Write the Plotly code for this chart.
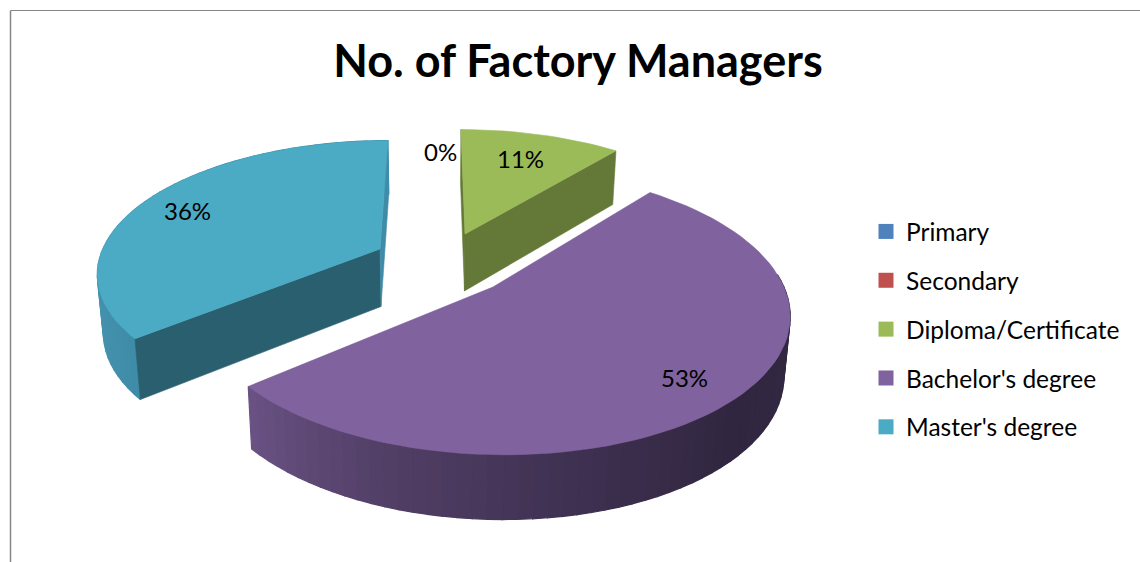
import numpy as np
import plotly.graph_objects as go

# ---- data ----
categories = ["Primary", "Secondary", "Diploma/Certificate", "Bachelor's degree", "Master's degree"]
percent_values = [0, 0, 11, 53, 36]
percent_labels = ["0%", "0%", "11%", "53%", "36%"]
title_text = "No. of Factory Managers"

# ---- styles ----
top_colors = ["#4f81bd", "#c0504d", "#9bbb59", "#7f629e", "#4baac4"]
cut_colors = ["#2f4d71", "#73302e", "#647838", "#4c3c61", "#2a5f6f"]
side_stops = {
    2: ([0, 360], ["#647838", "#647838"]),
    3: ([90, 135, 170, 200, 231], ["#342a45", "#30263f", "#3f3152", "#523f66", "#6a5385"]),
    4: ([230, 270, 360], ["#3f8ca8", "#4a97b2", "#3f8ca8"]),
}
VX, VY, H, F, R, T = 436.0, -520.0, 810.0, 1690.0, 292.0, 59.0
# where each exploded slice's tip sits on the page
tips = {2: (465, 234), 3: (493, 287), 4: (380, 249)}
label_xy = [(440, 151), None, (520, 158), (684, 377), (187, 210)]


def to_world(px, py):
    s = (py - VY) / H
    return (px - VX) / s, F / s - F


def project(wx, wy, depth=0.0):
    s = F / (F + wy)
    inward = 1 - 0.018 * depth / T
    return VX + wx * s * inward, VY + H * s + depth * s ** 0.5


def hex_rgb(c):
    return np.array([int(c[i:i + 2], 16) for i in (1, 3, 5)], float)


def shade(t, stops):
    ts, cs = stops
    rgb = [np.interp(t, ts, [hex_rgb(c)[k] for c in cs]) for k in range(3)]
    return "rgb(%d,%d,%d)" % tuple(int(round(v)) for v in rgb)


fig = go.Figure()


def poly(xs, ys, color, lw=0.6):
    fig.add_trace(go.Scatter(x=list(xs) + [xs[0]], y=list(ys) + [ys[0]], mode="lines", fill="toself",
                             fillcolor=color, line=dict(color=color, width=lw),
                             hoverinfo="skip", showlegend=False))


# slice angles, clockwise from 12 o'clock, derived from the values
edges = np.cumsum([0] + percent_values) * 3.6
for i in [4, 2, 3]:  # back slices first
    t0, t1 = edges[i], edges[i + 1]
    wx0, wy0 = to_world(*tips[i])
    ts = np.linspace(t0, t1, int(max(8, (t1 - t0) / 2.5)) + 1)
    wxs = wx0 + R * np.sin(np.radians(ts))
    wys = wy0 + R * np.cos(np.radians(ts))
    # outer wall, far to near
    segs = sorted(range(len(ts) - 1), key=lambda k: -wys[k])
    for k in segs:
        if (wys[k] + wys[k + 1]) / 2 > wy0 + 0.1 * R and i != 4:
            continue
        a, b = project(wxs[k], wys[k]), project(wxs[k + 1], wys[k + 1])
        c, d = project(wxs[k + 1], wys[k + 1], T), project(wxs[k], wys[k], T)
        poly([a[0], b[0], c[0], d[0]], [a[1], b[1], c[1], d[1]], shade((ts[k] + ts[k + 1]) / 2, side_stops[i]), 1.2)
    # radial cut walls (the large middle slice hides its own)
    if i != 3:
        for e in (0, -1):
            a, b = project(wx0, wy0), project(wxs[e], wys[e])
            c, d = project(wxs[e], wys[e], T), project(wx0, wy0, T)
            col = cut_colors[i]
            if i == 4 and e == -1:
                col = "#3f8ca8"
            poly([a[0], b[0], c[0], d[0]], [a[1], b[1], c[1], d[1]], col)
    # top face
    pts = [project(wx0, wy0)] + [project(x, y) for x, y in zip(wxs, wys)]
    poly([p[0] for p in pts], [p[1] for p in pts], top_colors[i])

# legend entries
for g, (name, col) in enumerate(zip(categories, top_colors)):
    fig.add_trace(go.Scatter(x=[None], y=[None], mode="markers", name=name, legendgroup=f"g{g}",
                             marker=dict(symbol="square", size=15, color=col)))

for (xy, lab) in zip(label_xy, percent_labels):
    if xy is None:
        continue
    fig.add_annotation(x=xy[0], y=xy[1], text=lab, showarrow=False, xref="x", yref="y",
                       font=dict(family="Lato, Carlito, sans-serif", size=24, color="#000000"))

fig.update_layout(
    width=1140, height=562, autosize=False,
    margin=dict(l=0, r=0, t=0, b=0),
    paper_bgcolor="#ffffff", plot_bgcolor="#ffffff",
    font=dict(family="Lato, sans-serif"),
    title=dict(text=f"<b>{title_text}</b>", x=578 / 1140, xanchor="center", y=1 - 61 / 562, yanchor="middle",
               font=dict(family="Lato, sans-serif", size=45, color="#000000")),
    xaxis=dict(range=[0, 1140], visible=False, fixedrange=True),
    yaxis=dict(range=[562, 0], visible=False, fixedrange=True),
    legend=dict(x=866 / 1140, y=1 - 329.5 / 562, xanchor="left", yanchor="middle", tracegroupgap=14,
                font=dict(family="Lato, sans-serif", size=24.5, color="#000000"),
                bgcolor="rgba(0,0,0,0)", itemclick=False, itemdoubleclick=False),
    shapes=[dict(type="line", xref="paper", yref="paper", x0=10.5 / 1140, x1=1, y0=1 - 10.5 / 562, y1=1 - 10.5 / 562,
                 line=dict(color="#868686", width=1)),
            dict(type="line", xref="paper", yref="paper", x0=10.5 / 1140, x1=10.5 / 1140, y0=0, y1=1 - 10.5 / 562,
                 line=dict(color="#868686", width=1.5))],
)
fig.write_html("out.html", config=dict(displayModeBar=False),
               post_script="document.body.style.margin='0';document.body.style.overflow='hidden';")
